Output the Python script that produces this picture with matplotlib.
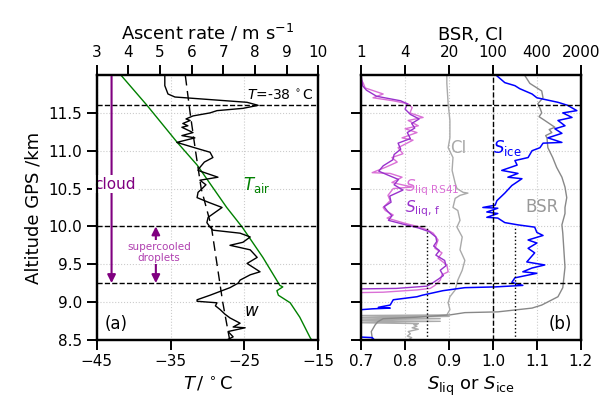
import numpy as np
import matplotlib
matplotlib.use("Agg")
import matplotlib.pyplot as plt

# ---- panel (a) data ----
alt_w = [11.99, 11.86, 11.75, 11.71, 11.64, 11.60, 11.56, 11.53, 11.50, 11.46, 11.42, 11.40,
         11.36, 11.33, 11.31, 11.24, 11.20, 11.17, 11.11, 11.03, 10.98, 10.91, 10.85, 10.78,
         10.74, 10.65, 10.61, 10.55, 10.50, 10.45, 10.38, 10.32, 10.25, 10.12, 10.05, 9.99,
         9.95, 9.91, 9.86, 9.79, 9.75, 9.69, 9.59, 9.51, 9.40, 9.36, 9.29, 9.25, 9.19, 9.09,
         9.03, 9.01, 8.99, 8.95, 8.90, 8.84, 8.79, 8.72, 8.67, 8.66, 8.61, 8.54, 8.50]
w = [5.15, 5.15, 5.25, 5.47, 7.75, 8.10, 7.62, 6.80, 6.58, 6.04, 5.82, 5.95,
     5.72, 5.88, 5.69, 6.04, 5.69, 6.10, 5.53, 6.17, 6.58, 6.67, 6.40, 6.26,
     6.20, 6.83, 6.26, 6.45, 6.33, 6.20, 6.17, 6.52, 6.96, 6.52, 6.48, 6.58,
     6.67, 7.53, 7.85, 7.62, 7.21, 7.85, 8.07, 7.75, 8.16, 7.85, 7.53, 7.47, 7.21, 6.58,
     6.17, 6.17, 6.80, 6.75, 6.90, 7.05, 7.21, 7.53, 7.31, 7.69, 7.15, 7.31, 7.12]

alt_wsm = [11.99, 11.5, 11.0, 10.5, 10.0, 9.5, 9.0, 8.5]
w_smooth = [5.80, 5.95, 6.12, 6.30, 6.62, 6.80, 6.98, 7.20]

alt_T = [11.99, 11.60, 11.11, 10.81, 10.25, 9.99, 9.59, 9.22, 9.20, 9.15, 9.09, 8.99, 8.80, 8.53, 8.50]
T_air = [-41.65, -38.2, -34.1, -31.4, -27.4, -25.3, -22.5, -20.2, -19.8, -20.6, -20.4, -18.8, -17.5, -16.1, -15.9]

# ---- panel (b) data ----
alt_rs = [12.0, 11.89, 11.83, 11.75, 11.70, 11.66, 11.62, 11.57, 11.50, 11.44, 11.40, 11.33,
          11.29, 11.24, 11.17, 11.14, 11.04, 10.96, 10.91, 10.85, 10.78, 10.71, 10.70, 10.65,
          10.58, 10.52, 10.50, 10.41, 10.34, 10.25, 10.21, 10.15, 10.11, 10.04, 9.99, 9.95,
          9.91, 9.82, 9.71, 9.65, 9.58, 9.49, 9.40, 9.36, 9.29, 9.22, 9.18, 9.16, 9.13, 9.12]
s_liq_rs41 = [0.695, 0.705, 0.709, 0.750, 0.727, 0.773, 0.807, 0.816, 0.811, 0.841, 0.807, 0.830,
              0.800, 0.827, 0.793, 0.818, 0.784, 0.795, 0.770, 0.782, 0.755, 0.725, 0.766, 0.793,
              0.770, 0.816, 0.773, 0.761, 0.766, 0.750, 0.755, 0.773, 0.759, 0.800, 0.834, 0.852,
              0.864, 0.875, 0.868, 0.884, 0.875, 0.895, 0.898, 0.884, 0.880, 0.868, 0.857, 0.827, 0.750, 0.650]

alt_f = [12.0, 11.86, 11.80, 11.72, 11.66, 11.62, 11.55, 11.48, 11.42, 11.36, 11.30, 11.24,
         11.16, 11.10, 11.02, 10.95, 10.88, 10.80, 10.73, 10.68, 10.62, 10.55, 10.48, 10.40,
         10.32, 10.26, 10.20, 10.14, 10.08, 10.03, 9.98, 9.93, 9.86, 9.80, 9.74, 9.68, 9.62,
         9.55, 9.48, 9.42, 9.35, 9.30, 9.25, 9.21, 9.18, 9.17]
s_liq_f = [0.700, 0.703, 0.712, 0.735, 0.790, 0.805, 0.800, 0.812, 0.832, 0.815, 0.822, 0.805,
           0.812, 0.784, 0.790, 0.775, 0.772, 0.750, 0.740, 0.760, 0.785, 0.775, 0.795, 0.765,
           0.768, 0.752, 0.760, 0.770, 0.762, 0.795, 0.830, 0.855, 0.870, 0.872, 0.865, 0.878,
           0.870, 0.890, 0.893, 0.880, 0.887, 0.875, 0.862, 0.850, 0.780, 0.650]

alt_ice = [11.99, 11.90, 11.86, 11.82, 11.75, 11.70, 11.64, 11.60, 11.53, 11.50, 11.44, 11.40,
           11.33, 11.29, 11.23, 11.17, 11.11, 11.10, 11.04, 11.00, 10.91, 10.87, 10.81, 10.74,
           10.70, 10.65, 10.63, 10.54, 10.44, 10.34, 10.28, 10.25, 10.24, 10.19, 10.17, 10.12,
           10.11, 10.05, 10.02, 9.99, 9.92, 9.88, 9.82, 9.78, 9.71, 9.65, 9.53, 9.49, 9.45,
           9.40, 9.38, 9.32, 9.26, 9.22, 9.20, 9.19, 9.15, 9.09, 9.07, 9.03, 8.96, 8.93, 8.92,
           8.91, 8.90, 8.88, 8.55, 8.53, 8.50]
s_ice = [1.009, 1.027, 1.050, 1.061, 1.089, 1.100, 1.148, 1.170, 1.191, 1.159, 1.180, 1.148,
         1.164, 1.141, 1.157, 1.125, 1.157, 1.114, 1.107, 1.089, 1.080, 1.050, 1.055, 1.020,
         1.057, 1.034, 1.066, 1.043, 1.027, 1.009, 1.005, 0.977, 1.011, 0.986, 1.011, 0.986,
         1.011, 1.027, 1.057, 1.095, 1.100, 1.114, 1.080, 1.100, 1.080, 1.095, 1.077, 1.118, 1.089,
         1.068, 1.100, 1.050, 1.043, 1.068, 1.005, 0.936, 0.886, 0.839, 0.827, 0.773, 0.766, 0.739, 0.766,
         0.725, 0.702, 0.650, 0.650, 0.725, 0.730]

alt_bsr = [11.99, 11.89, 11.79, 11.70, 11.62, 11.55, 11.50, 11.45, 11.40, 11.31, 11.28, 11.24,
           11.20, 11.17, 11.04, 10.91, 10.78, 10.65, 10.52, 10.38, 10.25, 10.17, 10.02, 9.91,
           9.46, 9.19, 9.07, 8.96, 8.92, 8.87, 8.86, 8.83, 8.80, 8.78, 8.74, 8.70, 8.61, 8.53, 8.50]
bsr = [1.073, 1.084, 1.111, 1.114, 1.102, 1.108, 1.111, 1.105, 1.118, 1.141, 1.128, 1.134,
       1.120, 1.123, 1.125, 1.136, 1.145, 1.157, 1.164, 1.168, 1.164, 1.164, 1.157, 1.159,
       1.164, 1.159, 1.148, 1.111, 1.089, 1.011, 0.936, 0.902, 0.827, 0.750, 0.738, 0.732, 0.723, 0.725, 0.724]

alt_ci = [12.0, 11.89, 11.62, 11.40, 11.17, 11.04, 10.91, 10.74, 10.57, 10.50, 10.45, 10.44,
          10.41, 10.37, 10.25, 10.21, 10.08, 9.99, 9.86, 9.69, 9.55, 9.42, 9.29, 9.16, 9.07,
          8.99, 8.90, 8.83, 8.82, 8.81, 8.79, 8.78, 8.76, 8.745, 8.73, 8.715, 8.70, 8.68,
          8.66, 8.64, 8.61, 8.58, 8.55, 8.53, 8.50]
ci = [0.895, 0.895, 0.898, 0.902, 0.902, 0.898, 0.909, 0.907, 0.914, 0.918, 0.932, 0.943,
      0.925, 0.914, 0.909, 0.920, 0.925, 0.918, 0.930, 0.925, 0.936, 0.930, 0.920, 0.914, 0.902,
      0.898, 0.902, 0.895, 0.650, 0.900, 0.650, 0.880, 0.650, 0.880, 0.650, 0.830, 0.820, 0.827,
      0.816, 0.830, 0.807, 0.812, 0.805, 0.815, 0.808]

w_ticks = [3, 4, 5, 6, 7, 8, 9, 10]
s_ticks = [0.7, 0.8, 0.9, 1.0, 1.1, 1.2]
bsr_ci_labels = ["1", "4", "20", "100", "400", "2000"]
alt_ticks = [8.5, 9.0, 9.5, 10.0, 10.5, 11.0, 11.5]

plt.rcParams.update({
    "font.size": 11,
    "axes.labelsize": 13,
    "xtick.labelsize": 11,
    "ytick.labelsize": 11,
    "axes.linewidth": 1.6,
    "xtick.major.size": 7,
    "ytick.major.size": 7,
    "xtick.major.width": 1.4,
    "ytick.major.width": 1.4,
})

fig = plt.figure(figsize=(6.05, 4.08), dpi=100)
ax = fig.add_axes([0.160, 0.167, 0.366, 0.649])
ax2 = fig.add_axes([0.597, 0.167, 0.363, 0.649])

# panel (a)
ax.set_xlim(-45, -15)
ax.set_ylim(8.5, 12.0)
ax.set_xticks([-45, -35, -25, -15])
ax.set_yticks(alt_ticks)
ax.grid(ls=':', color='#cccccc', lw=0.8)
ax.plot(T_air, alt_T, color='green', lw=1.0)
for h in [11.6, 10.0, 9.25]:
    ax.axhline(h, color='k', ls='--', lw=1.0)
ax.annotate('', xy=(-43, 9.25), xytext=(-43, 12.0),
            arrowprops=dict(arrowstyle='-|>', color='purple', lw=1.5, shrinkA=0, shrinkB=0, mutation_scale=12))
ax.annotate('', xy=(-37, 9.25), xytext=(-37, 10.0),
            arrowprops=dict(arrowstyle='<|-|>', color='purple', lw=1.5, shrinkA=0, shrinkB=0, mutation_scale=12))
ax.text(-42.6, 10.56, 'cloud', color='purple', fontsize=11, ha='center', va='center',
        bbox=dict(fc='white', ec='none', pad=1))
ax.text(-36.6, 9.66, 'supercooled\ndroplets', color='#b040b0', fontsize=7.5, ha='center', va='center',
        linespacing=1.1, bbox=dict(fc='white', ec='none', pad=1))
ax.text(-15.6, 11.63, r'$T$=-38$\,^\circ$C', fontsize=10, ha='right', va='bottom')
ax.text(-25.2, 10.55, r'$T_{\rm air}$', color='green', fontsize=12, ha='left', va='center')
ax.text(-25.0, 8.88, r'$w$', fontsize=12, ha='left', va='center')
ax.text(0.035, 0.025, '(a)', transform=ax.transAxes, fontsize=12, ha='left', va='bottom')
ax.set_xlabel(r'$T\,/\,^\circ$C')
ax.set_ylabel('Altitude GPS /km')

axt = ax.twiny()
axt.set_xlim(3, 10)
axt.set_xticks(w_ticks)
axt.plot(w, alt_w, color='k', lw=1.0)
axt.plot(w_smooth, alt_wsm, color='k', lw=1.0, dashes=(7, 4))
axt.set_xlabel('Ascent rate / m s$^{-1}$')

# panel (b)
ax2.set_xlim(0.7, 1.2)
ax2.set_ylim(8.5, 12.0)
ax2.set_xticks(s_ticks)
ax2.set_xticklabels(['%.1f' % s for s in s_ticks])
ax2.set_yticks(alt_ticks)
ax2.set_yticklabels([])
ax2.grid(ls=':', color='#cccccc', lw=0.8)
ax2.plot(ci, alt_ci, color='#aaaaaa', lw=1.0)
ax2.plot(bsr, alt_bsr, color='#888888', lw=1.0)
ax2.plot(s_liq_rs41, alt_rs, color='orchid', lw=1.0)
ax2.plot(s_liq_f, alt_f, color='darkorchid', lw=1.0)
ax2.plot(s_ice, alt_ice, color='blue', lw=1.1)
ax2.axhline(11.6, color='k', ls='--', lw=1.0)
ax2.axhline(9.25, color='k', ls='--', lw=1.0)
ax2.plot([0.7, 0.85], [10.0, 10.0], color='k', ls='--', lw=1.0)
ax2.axvline(1.0, color='k', ls='--', lw=1.0)
ax2.plot([0.85, 0.85], [8.5, 10.0], color='k', ls=':', lw=1.0)
ax2.plot([1.05, 1.05], [8.5, 10.0], color='k', ls=':', lw=1.0)
ax2.text(0.902, 11.03, 'CI', color='#aaaaaa', fontsize=12, ha='left', va='center')
ax2.text(1.0, 11.03, r'$S_{\rm ice}$', color='blue', fontsize=12, ha='left', va='center')
ax2.text(0.80, 10.51, r'$S_{\rm liq\ RS41}$', color='orchid', fontsize=11, ha='left', va='center')
ax2.text(0.80, 10.24, r'$S_{\rm liq,\,f}$', color='darkorchid', fontsize=11, ha='left', va='center')
ax2.text(1.073, 10.25, 'BSR', color='#999999', fontsize=12, ha='left', va='center')
ax2.text(0.96, 0.025, '(b)', transform=ax2.transAxes, fontsize=12, ha='right', va='bottom')
ax2.set_xlabel(r'$S_{\rm liq}$ or $S_{\rm ice}$')

ax2t = ax2.twiny()
ax2t.set_xlim(0.7, 1.2)
ax2t.set_xticks(s_ticks)
ax2t.set_xticklabels(bsr_ci_labels)
ax2t.set_xlabel('BSR, CI')

fig.savefig('out.png', dpi=100)
